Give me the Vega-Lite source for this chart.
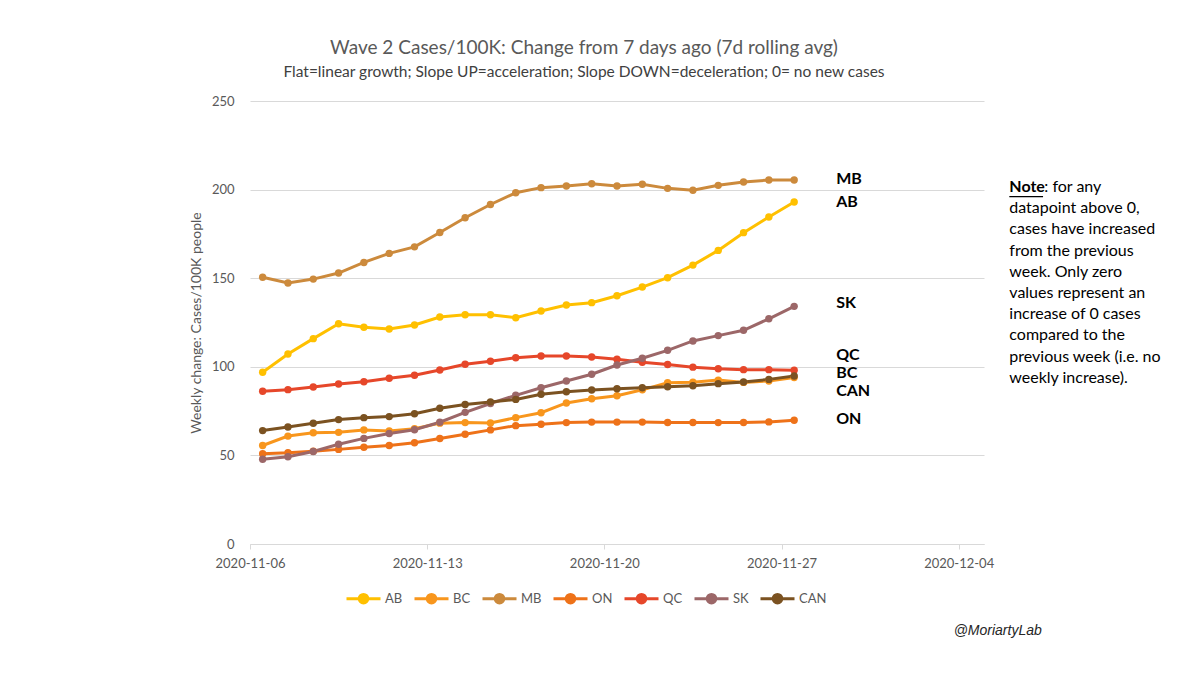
{
  "$schema": "https://vega.github.io/schema/vega-lite/v6.json",
  "width": 734,
  "height": 443,
  "padding": {"left": 189, "top": 38, "right": 5, "bottom": 5},
  "background": "white",
  "title": {
    "text": "Wave 2 Cases/100K: Change from 7 days ago (7d rolling avg)",
    "subtitle": "Flat=linear growth; Slope UP=acceleration; Slope DOWN=deceleration; 0= no new cases",
    "anchor": "middle",
    "frame": "group",
    "dx": -33,
    "font": "Lato",
    "fontSize": 19,
    "fontWeight": "normal",
    "color": "#595959",
    "subtitleFont": "Lato",
    "subtitleFontSize": 15.5,
    "subtitleColor": "#404040",
    "subtitlePadding": 7,
    "offset": 15
  },
  "datasets": {
    "wide": [
      {"date": "2020-11-06", "AB": 96.9, "BC": 55.6, "MB": 150.5, "ON": 51.0, "QC": 86.2, "SK": 47.8, "CAN": 64.0},
      {"date": "2020-11-07", "AB": 107.2, "BC": 60.9, "MB": 147.3, "ON": 51.5, "QC": 87.1, "SK": 49.2, "CAN": 66.0},
      {"date": "2020-11-08", "AB": 115.9, "BC": 62.8, "MB": 149.5, "ON": 52.4, "QC": 88.6, "SK": 52.2, "CAN": 68.1},
      {"date": "2020-11-09", "AB": 124.3, "BC": 63.0, "MB": 152.9, "ON": 53.4, "QC": 90.3, "SK": 56.3, "CAN": 70.2},
      {"date": "2020-11-10", "AB": 122.3, "BC": 64.4, "MB": 158.9, "ON": 54.6, "QC": 91.6, "SK": 59.6, "CAN": 71.3},
      {"date": "2020-11-11", "AB": 121.3, "BC": 63.8, "MB": 164.0, "ON": 55.6, "QC": 93.5, "SK": 62.4, "CAN": 71.9},
      {"date": "2020-11-12", "AB": 123.6, "BC": 65.1, "MB": 167.7, "ON": 57.1, "QC": 95.2, "SK": 64.5, "CAN": 73.5},
      {"date": "2020-11-13", "AB": 128.1, "BC": 68.2, "MB": 175.8, "ON": 59.5, "QC": 98.2, "SK": 68.7, "CAN": 76.6},
      {"date": "2020-11-14", "AB": 129.4, "BC": 68.5, "MB": 184.1, "ON": 61.9, "QC": 101.4, "SK": 74.3, "CAN": 78.7},
      {"date": "2020-11-15", "AB": 129.4, "BC": 68.3, "MB": 191.6, "ON": 64.4, "QC": 103.1, "SK": 79.3, "CAN": 80.2},
      {"date": "2020-11-16", "AB": 127.7, "BC": 71.3, "MB": 198.2, "ON": 66.8, "QC": 105.1, "SK": 83.9, "CAN": 81.6},
      {"date": "2020-11-17", "AB": 131.5, "BC": 74.1, "MB": 201.1, "ON": 67.6, "QC": 106.1, "SK": 88.2, "CAN": 84.5},
      {"date": "2020-11-18", "AB": 134.9, "BC": 79.6, "MB": 202.0, "ON": 68.5, "QC": 106.1, "SK": 92.0, "CAN": 85.9},
      {"date": "2020-11-19", "AB": 136.2, "BC": 82.0, "MB": 203.3, "ON": 68.8, "QC": 105.5, "SK": 95.8, "CAN": 86.9},
      {"date": "2020-11-20", "AB": 140.1, "BC": 83.7, "MB": 202.0, "ON": 68.8, "QC": 104.3, "SK": 101.0, "CAN": 87.6},
      {"date": "2020-11-21", "AB": 145.0, "BC": 87.0, "MB": 203.0, "ON": 68.8, "QC": 102.6, "SK": 104.8, "CAN": 88.2},
      {"date": "2020-11-22", "AB": 150.3, "BC": 91.0, "MB": 200.7, "ON": 68.6, "QC": 101.3, "SK": 109.3, "CAN": 88.7},
      {"date": "2020-11-23", "AB": 157.4, "BC": 91.3, "MB": 199.6, "ON": 68.6, "QC": 99.8, "SK": 114.6, "CAN": 89.3},
      {"date": "2020-11-24", "AB": 165.7, "BC": 92.5, "MB": 202.4, "ON": 68.5, "QC": 98.9, "SK": 117.6, "CAN": 90.5},
      {"date": "2020-11-25", "AB": 175.7, "BC": 91.2, "MB": 204.3, "ON": 68.6, "QC": 98.4, "SK": 120.6, "CAN": 91.4},
      {"date": "2020-11-26", "AB": 184.5, "BC": 92.0, "MB": 205.4, "ON": 68.9, "QC": 98.4, "SK": 127.1, "CAN": 92.9},
      {"date": "2020-11-27", "AB": 193.0, "BC": 93.9, "MB": 205.4, "ON": 69.8, "QC": 98.1, "SK": 134.1, "CAN": 94.8}
    ],
    "labels": [
      {"region": "MB", "date": "2020-11-27", "value": 206.0},
      {"region": "AB", "date": "2020-11-27", "value": 193.0},
      {"region": "SK", "date": "2020-11-27", "value": 136.0},
      {"region": "QC", "date": "2020-11-27", "value": 106.9},
      {"region": "BC", "date": "2020-11-27", "value": 96.5},
      {"region": "CAN", "date": "2020-11-27", "value": 86.1},
      {"region": "ON", "date": "2020-11-27", "value": 70.5}
    ]
  },
  "layer": [
    {
      "data": {"name": "wide"},
      "transform": [{"fold": ["AB", "BC", "MB", "ON", "QC", "SK", "CAN"], "as": ["region", "value"]}],
      "mark": {"type": "line", "strokeWidth": 3, "point": {"filled": true, "size": 55, "opacity": 1}},
      "encoding": {
        "x": {
          "field": "date",
          "type": "temporal",
          "timeUnit": "utcyearmonthdate",
          "bandPosition": 0.5,
          "scale": {
            "type": "utc",
            "nice": false,
            "domain": [
              {"year": 2020, "month": 11, "date": 6, "utc": true},
              {"year": 2020, "month": 12, "date": 5, "utc": true}
            ]
          },
          "axis": {
            "title": null,
            "values": [
              {"year": 2020, "month": 11, "date": 6, "utc": true},
              {"year": 2020, "month": 11, "date": 13, "utc": true},
              {"year": 2020, "month": 11, "date": 20, "utc": true},
              {"year": 2020, "month": 11, "date": 27, "utc": true},
              {"year": 2020, "month": 12, "date": 4, "utc": true}
            ],
            "format": "%Y-%m-%d",
            "grid": false,
            "domainColor": "#d9d9d9",
            "domainWidth": 1,
            "tickColor": "#d9d9d9",
            "tickSize": 5,
            "labelPadding": 8,
            "labelFont": "Lato",
            "labelFontSize": 13,
            "labelColor": "#595959",
            "labelOverlap": false,
            "labelFlush": false
          }
        },
        "y": {
          "field": "value",
          "type": "quantitative",
          "scale": {"domain": [0, 250], "nice": false},
          "axis": {
            "title": "Weekly change: Cases/100K people",
            "values": [0, 50, 100, 150, 200, 250],
            "grid": true,
            "gridColor": "#d9d9d9",
            "gridWidth": 1,
            "domain": false,
            "ticks": false,
            "labelPadding": 16,
            "labelFont": "Lato",
            "labelFontSize": 13,
            "labelColor": "#595959",
            "titleFont": "Lato",
            "titleFontSize": 14,
            "titleFontWeight": "normal",
            "titleColor": "#595959",
            "titlePadding": 8
          }
        },
        "color": {
          "field": "region",
          "type": "nominal",
          "scale": {
            "domain": ["AB", "BC", "MB", "ON", "QC", "SK", "CAN"],
            "range": ["#FFC000", "#F8961D", "#CC8A3C", "#EE7219", "#E6472A", "#9C6768", "#7B5221"]
          },
          "legend": {
            "orient": "none",
            "legendX": 95,
            "legendY": 479,
            "direction": "horizontal",
            "gridAlign": "each",
            "title": null,
            "symbolType": "M-1,0H1M0.25,0A0.25,0.25,0,1,1,-0.25,0A0.25,0.25,0,1,1,0.25,0Z",
            "symbolSize": 1156,
            "symbolStrokeWidth": 3,
            "labelFont": "Lato",
            "labelFontSize": 13,
            "labelColor": "#595959",
            "labelOffset": 3,
            "columnPadding": 5,
            "encode": {
              "symbols": {
                "update": {
                  "fill": {"scale": "color", "field": "value"},
                  "fillOpacity": {"value": 1},
                  "opacity": {"value": 1}
                }
              }
            }
          }
        }
      }
    },
    {
      "data": {"name": "labels"},
      "mark": {"type": "text", "align": "left", "baseline": "middle", "dx": 42, "font": "Lato", "fontSize": 16, "fontWeight": "bold", "color": "#000000"},
      "encoding": {
        "x": {"field": "date", "type": "temporal", "timeUnit": "utcyearmonthdate", "bandPosition": 0.5, "scale": {"type": "utc"}},
        "y": {"field": "value", "type": "quantitative"},
        "text": {"field": "region"}
      }
    },
    {
      "data": {"values": [{"text": "Note"}]},
      "mark": {"type": "text", "align": "left", "baseline": "top", "font": "Lato", "fontSize": 16, "fontWeight": "bold", "color": "#000000"},
      "encoding": {
        "x": {"datum": {"year": 2020, "month": 12, "date": 6, "utc": true}, "type": "temporal", "scale": {"type": "utc"}},
        "y": {"datum": 206.0, "type": "quantitative"},
        "text": {"field": "text"}
      }
    },
    {
      "data": {"values": [{"text": ": for any"}]},
      "mark": {"type": "text", "align": "left", "baseline": "top", "dx": 35, "font": "Lato", "fontSize": 16, "color": "#000000"},
      "encoding": {
        "x": {"datum": {"year": 2020, "month": 12, "date": 6, "utc": true}, "type": "temporal", "scale": {"type": "utc"}},
        "y": {"datum": 206.0, "type": "quantitative"},
        "text": {"field": "text"}
      }
    },
    {
      "data": {"values": [{"text": "\ndatapoint above 0,\ncases have increased\nfrom the previous\nweek. Only zero\nvalues represent an\nincrease of 0 cases\ncompared to the\nprevious week (i.e. no\nweekly increase)."}]},
      "mark": {"type": "text", "align": "left", "baseline": "top", "lineBreak": "\n", "lineHeight": 21.2, "font": "Lato", "fontSize": 16, "color": "#000000"},
      "encoding": {
        "x": {"datum": {"year": 2020, "month": 12, "date": 6, "utc": true}, "type": "temporal", "scale": {"type": "utc"}},
        "y": {"datum": 206.0, "type": "quantitative"},
        "text": {"field": "text"}
      }
    },
    {
      "data": {"values": [{"text": "Note"}]},
      "mark": {"type": "rule", "strokeWidth": 1.3, "color": "#000000"},
      "encoding": {
        "x": {"datum": {"year": 2020, "month": 12, "date": 6, "utc": true}, "type": "temporal", "scale": {"type": "utc"}},
        "x2": {"datum": {"year": 2020, "month": 12, "date": 7, "hours": 8, "utc": true}},
        "y": {"datum": 196.0, "type": "quantitative"}
      }
    },
    {
      "data": {"values": [{"text": "@MoriartyLab"}]},
      "mark": {"type": "text", "align": "center", "baseline": "middle", "font": "Liberation Sans", "fontSize": 14, "fontStyle": "italic", "color": "#262626"},
      "encoding": {
        "x": {"datum": {"year": 2020, "month": 12, "date": 5, "hours": 13, "utc": true}, "type": "temporal", "scale": {"type": "utc"}},
        "y": {"datum": -49, "type": "quantitative"},
        "text": {"field": "text"}
      }
    }
  ],
  "config": {
    "view": {"stroke": null},
    "font": "Lato"
  }
}
